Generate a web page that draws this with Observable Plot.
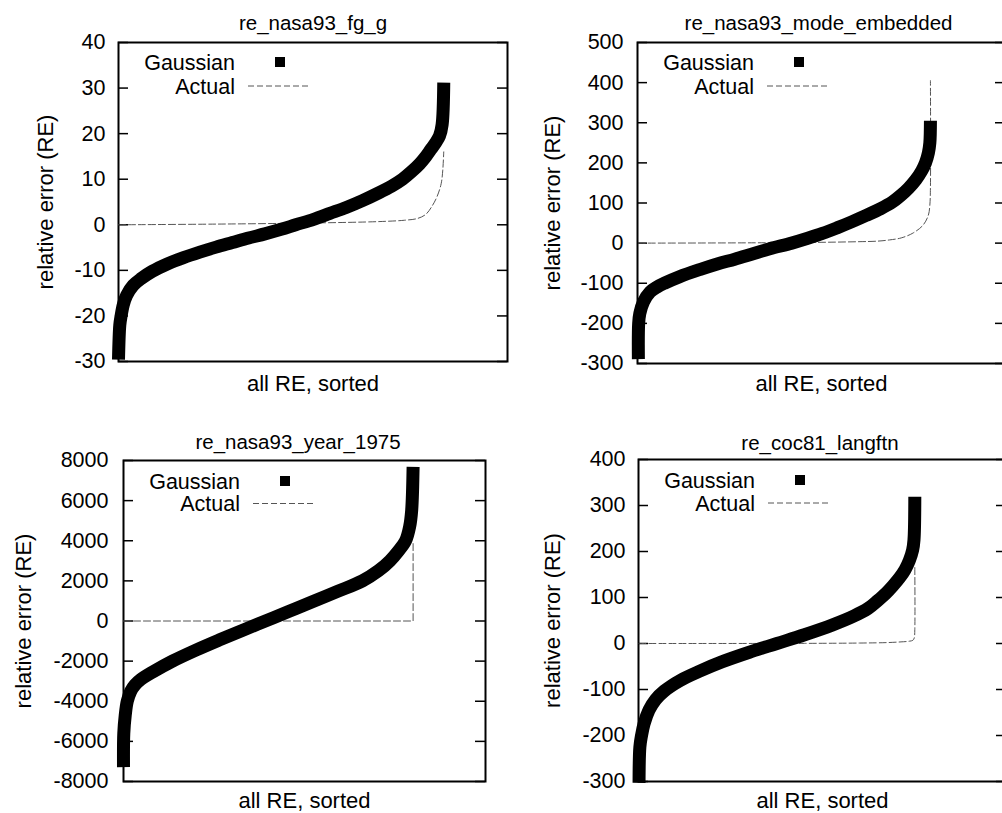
<!DOCTYPE html>
<html><head><meta charset="utf-8">
<script src="https://cdn.jsdelivr.net/npm/d3@7"></script>
<script src="https://cdn.jsdelivr.net/npm/@observablehq/plot@0.6"></script>
<style>
html,body{margin:0;padding:0;background:#fff;}
#wrap{position:relative;width:1002px;height:813px;overflow:hidden;background:#fff;}
.panel{position:absolute;}
</style></head><body><div id="wrap"></div>
<script>
// ---------- data ----------
const panelTitles = ["re_nasa93_fg_g", "re_nasa93_mode_embedded", "re_nasa93_year_1975", "re_coc81_langftn"];
const yLabel = "relative error (RE)";
const xLabel = "all RE, sorted";
const legendLabels = ["Gaussian", "Actual"];

const yTicksFgG = [-30, -20, -10, 0, 10, 20, 30, 40];
const yTicksMode = [-300, -200, -100, 0, 100, 200, 300, 400, 500];
const yTicksYear = [-8000, -6000, -4000, -2000, 0, 2000, 4000, 6000, 8000];
const yTicksCoc = [-300, -200, -100, 0, 100, 200, 300, 400];

// [rank (% of sorted RE), value]
const gaussFgG = [[0,-29.6],[0.4,-22],[0.8,-20],[1.5,-17.5],[2.5,-15.5],[4.5,-13.3],[7,-11.8],[10.4,-10.2],[15,-8.6],[20,-7.2],[25,-6.0],[30,-4.9],[35,-3.9],[40,-2.9],[45,-2.0],[50,-1.0],[54.5,0],[60,1.2],[65,2.5],[70,3.8],[75,5.3],[80,7.0],[84,8.5],[87.3,10],[90,11.6],[92.5,13.3],[94.5,15.0],[96,16.5],[97.5,18.0],[98.7,19.5],[99.5,22],[100,31.2]];
const actualFgG = [[0,0],[30,0.15],[60,0.4],[80,0.7],[88,1.0],[92,1.4],[94.5,2.3],[96.5,4.2],[98,6.3],[99.2,9],[99.7,12],[100,16]];

const gaussMode = [[0,-289],[0.1,-200],[0.5,-175],[1.8,-146],[4,-122],[6.5,-109],[8.9,-100],[14,-84],[21,-66],[27,-52],[33,-40],[39,-27],[45,-14],[52.5,0],[58,12],[63,24],[68,38],[73,53],[78,69],[83,86],[86.9,102],[89.7,118],[92.5,137],[95,158],[97,180],[98.3,200],[99.3,225],[99.8,250],[100,305]];
const actualMode = [[0,0],[20,0.3],[40,0.8],[60,1.8],[75,3.5],[82,5],[86,8],[90,13],[94,25],[97.5,45],[99.3,70],[99.8,95],[100,140],[100,405]];

const gaussYear = [[0,-7282],[0.1,-5600],[0.6,-4700],[1.3,-4000],[2.5,-3500],[4,-3180],[6,-2910],[10,-2550],[16.9,-2000],[25,-1450],[33,-950],[41,-470],[49,0],[57,470],[65,950],[74,1480],[82.5,2000],[88,2500],[92,3000],[95,3500],[97.4,4000],[98.8,4700],[99.5,5500],[100,7681]];
const actualYear = [[0,0],[25,0],[50,0],[75,0],[100,0],[100,3900]];

const gaussCoc = [[0,-303],[0.3,-225],[0.9,-200],[1.8,-175],[3.6,-145],[6,-122],[9.2,-103],[15,-80],[22,-60],[30,-40],[40,-19],[50,0],[60,19],[70,40],[78,60],[83,76],[86.5,93],[89.5,109],[92,125],[94.5,143],[96.5,161],[98,180],[99.2,203],[99.7,225],[100,319]];
const actualCoc = [[0,0],[60,0.3],[80,1],[90,2],[95,3.5],[98,5],[99.3,7],[99.8,12],[100,30],[100,165]];

// ---------- layout ----------
const FONT = "'Liberation Sans', Arial, Helvetica, sans-serif";
const panels = [
  {title: panelTitles[0], gauss: gaussFgG, actual: actualFgG, yTicks: yTicksFgG, yDomain: [-30, 40], xDomain: [0, 119.6],
   left: 0, top: 0, width: 520, height: 400, ml: 118, mr: 13, mt: 42, mb: 39,
   tickPad: 13, titleDx: 0, titleDy: -19, yLabDx: -73, xLabDy: 22, legY: [20, 44], actualCurve: "catmull-rom"},
  {title: panelTitles[1], gauss: gaussMode, actual: actualMode, yTicks: yTicksMode, yDomain: [-300, 500], xDomain: [-0.3, 125.7],
   left: 500, top: 0, width: 520, height: 400, ml: 137, mr: 15, mt: 42, mb: 37,
   tickPad: 14, titleDx: -3, titleDy: -19, yLabDx: -85, xLabDy: 20, legY: [20, 44], actualCurve: "catmull-rom"},
  {title: panelTitles[2], gauss: gaussYear, actual: actualYear, yTicks: yTicksYear, yDomain: [-8000, 8000], xDomain: [0, 125.0],
   left: 0, top: 410, width: 500, height: 403, ml: 123, mr: 15, mt: 50, mb: 32,
   tickPad: 15, titleDx: -6.5, titleDy: -18, yLabDx: -100, xLabDy: 19, legY: [21, 43.5], actualCurve: "linear"},
  {title: panelTitles[3], gauss: gaussCoc, actual: actualCoc, yTicks: yTicksCoc, yDomain: [-300, 400], xDomain: [-0.2, 133.25],
   left: 500, top: 410, width: 520, height: 403, ml: 138, mr: 14, mt: 49, mb: 32,
   tickPad: 13, titleDx: -2.5, titleDy: -16, yLabDx: -86, xLabDy: 19, legY: [21, 44], actualCurve: "catmull-rom"}
];

const wrap = document.getElementById("wrap");

for (const cfg of panels) {
  const fw = cfg.width - cfg.ml - cfg.mr;
  const g = cfg.gauss.map(([rank, value]) => ({rank, value}));
  const a = cfg.actual.map(([rank, value]) => ({rank, value}));
  const chart = Plot.plot({
    width: cfg.width, height: cfg.height,
    marginLeft: cfg.ml, marginRight: cfg.mr, marginTop: cfg.mt, marginBottom: cfg.mb,
    x: {domain: cfg.xDomain, axis: null},
    y: {domain: cfg.yDomain, axis: null},
    style: {fontFamily: FONT, fontSize: "21px", background: "transparent", color: "black", maxWidth: "none", overflow: "visible"},
    marks: [
      Plot.frame({stroke: "black", strokeWidth: 2}),
      Plot.ruleY(cfg.yTicks, {stroke: "black", strokeWidth: 1.5, insetRight: fw - 10}),
      Plot.ruleY(cfg.yTicks, {stroke: "black", strokeWidth: 1.5, insetLeft: fw - 10}),
      Plot.axisY({ticks: cfg.yTicks, anchor: "left", tickSize: 0, tickPadding: cfg.tickPad, tickFormat: d => String(d), fontSize: 21.5, label: null}),
      Plot.line(a, {x: "rank", y: "value", stroke: "#555", strokeWidth: 1, strokeDasharray: "7,3", curve: cfg.actualCurve}),
      Plot.line(g, {x: "rank", y: "value", stroke: "black", strokeWidth: 13, strokeLinecap: "butt", strokeLinejoin: "round", curve: "catmull-rom"}),
      Plot.text([cfg.title], {frameAnchor: "top", lineAnchor: "middle", dx: cfg.titleDx, dy: cfg.titleDy, fontSize: 20.5}),
      Plot.text([yLabel], {frameAnchor: "left", lineAnchor: "middle", textAnchor: "middle", rotate: -90, dx: cfg.yLabDx, fontSize: 22}),
      Plot.text([xLabel], {frameAnchor: "bottom", lineAnchor: "middle", dy: cfg.xLabDy, fontSize: 22})
    ]
  });
  // legend (inside plot area, top-left)
  const lg = d3.select(chart).append("g")
    .attr("transform", `translate(${cfg.ml},${cfg.mt})`)
    .attr("font-family", FONT).attr("font-size", 21.5).attr("fill", "black");
  lg.append("text").attr("x", 117).attr("y", cfg.legY[0]).attr("dy", "0.35em").attr("text-anchor", "end").text(legendLabels[0]);
  lg.append("rect").attr("x", 157).attr("y", cfg.legY[0] - 5).attr("width", 10).attr("height", 10).attr("fill", "black");
  lg.append("text").attr("x", 117).attr("y", cfg.legY[1]).attr("dy", "0.35em").attr("text-anchor", "end").text(legendLabels[1]);
  lg.append("line").attr("x1", 130).attr("x2", 193).attr("y1", cfg.legY[1]).attr("y2", cfg.legY[1])
    .attr("stroke", "#555").attr("stroke-width", 1).attr("stroke-dasharray", "6,3");

  const div = document.createElement("div");
  div.className = "panel";
  div.style.left = cfg.left + "px";
  div.style.top = cfg.top + "px";
  div.style.width = cfg.width + "px";
  div.style.height = cfg.height + "px";
  div.appendChild(chart);
  wrap.appendChild(div);
}
</script>
</body></html>
